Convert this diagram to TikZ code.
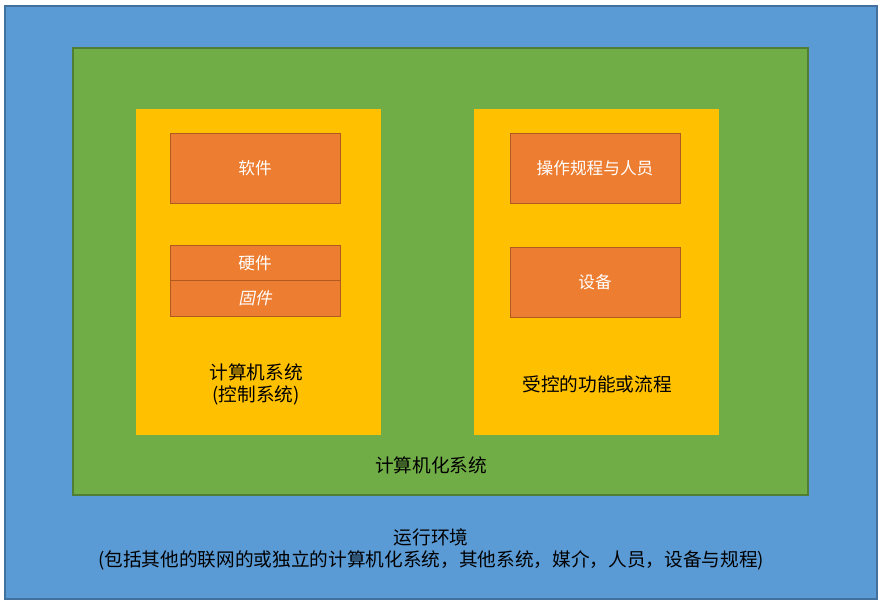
\documentclass[tikz,border=0pt]{standalone}
\usepackage{fontspec}
\setmainfont{Noto Sans CJK SC}
\newfontfamily\cjkit[FakeSlant=0.2]{Noto Sans CJK SC}
\definecolor{envblue}{HTML}{5B9BD5}
\definecolor{envblueline}{HTML}{41719C}
\definecolor{sysgreen}{HTML}{70AD47}
\definecolor{sysgreenline}{HTML}{507E32}
\definecolor{boxyellow}{HTML}{FFC000}
\definecolor{boxorange}{HTML}{ED7D31}
\definecolor{boxorangeline}{HTML}{AE5A21}
\tikzset{
  envbox/.style={fill=envblue,draw=envblueline,line width=0.9pt},
  sysbox/.style={fill=sysgreen,draw=sysgreenline,line width=0.9pt},
  ctlbox/.style={fill=boxyellow,draw=none},
  partbox/.style={fill=boxorange,draw=boxorangeline,line width=0.75pt},
  parttext/.style={text=white,font=\fontsize{12.5}{15}\selectfont,inner sep=0pt},
  lbltext/.style={text=black,font=\fontsize{14}{16.5}\selectfont,inner sep=0pt,align=center},
}
\begin{document}
\begin{tikzpicture}[x=0.75pt,y=-0.75pt]
\useasboundingbox (0,0) rectangle (884,607);
% environment
\path[envbox] (5,6) rectangle (877,599);
% computerized system
\path[sysbox] (73,48) rectangle (808,495);
% computer system
\path[ctlbox] (136,109) rectangle (381,435);
\path[ctlbox] (474,109) rectangle (719,435);
% orange parts
\path[partbox] (170,133) rectangle (340,203);
\path[partbox] (170,245) rectangle (340,280);
\path[partbox] (170,280) rectangle (340,316);
\path[partbox] (510,133) rectangle (680,203);
\path[partbox] (510,247) rectangle (680,317);
% texts
\node[parttext] (sw) at (255,168) {软件};
\node[parttext] (hw) at (255,263) {硬件};
\node[parttext] (fw) at (255,298) {\cjkit 固件};
\node[parttext] (ops) at (595,168) {操作规程与人员};
\node[parttext] (eq) at (595,282) {设备};
\node[lbltext] (cs) at (256,384) {计算机系统\\(控制系统)};
\node[lbltext] (cp) at (597,384) {受控的功能或流程};
\node[lbltext] (cz) at (431,465) {计算机化系统};
\node[lbltext] (env) at (431,549) {运行环境\\(包括其他的联网的或独立的计算机化系统，其他系统，媒介，人员，设备与规程)};
\end{tikzpicture}
\end{document}
